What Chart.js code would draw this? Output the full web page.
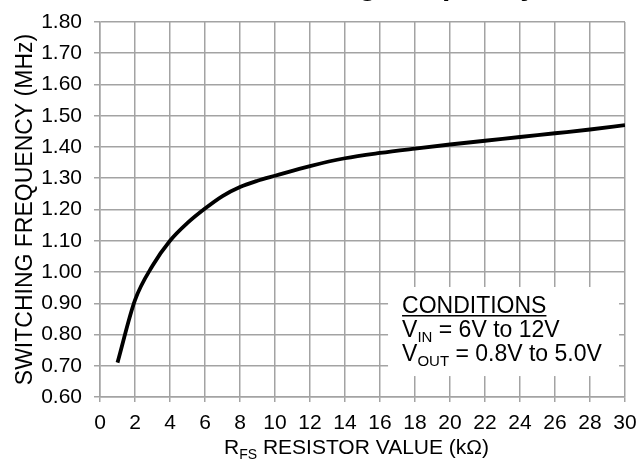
<!DOCTYPE html>
<html>
<head>
<meta charset="utf-8">
<script src="https://cdn.jsdelivr.net/npm/chart.js@4.4.1/dist/chart.umd.min.js"></script>
<style>
  html, body { margin: 0; padding: 0; background: #fff; }
  #wrap { width: 638px; height: 463px; }
</style>
</head>
<body>
<div id="wrap"><canvas id="c" width="638" height="463"></canvas></div>
<script>
const resistorKOhm = [1, 2, 3, 4, 5, 6, 7, 8, 9, 10, 12, 14, 16, 18, 20, 22, 24, 26, 28, 30];
const freqMHz = [0.71, 0.91, 1.02, 1.10, 1.157, 1.203, 1.243, 1.272, 1.292, 1.308, 1.339, 1.364, 1.381, 1.395, 1.408, 1.42, 1.432, 1.444, 1.456, 1.47];

const FONT = "'Liberation Sans', Arial, Helvetica, sans-serif";
const GRID = '#a3a3a3';

// top title is cut off by the frame, only descenders show
const topTitle = {
  id: 'topTitle',
  afterDraw(chart) {
    const ctx = chart.ctx;
    ctx.save();
    ctx.font = `bold 30px ${FONT}`;
    ctx.fillStyle = '#000';
    ctx.textAlign = 'right';
    ctx.textBaseline = 'alphabetic';
    ctx.fillText('Switching Frequency', 537, -5);
    ctx.restore();
  },
};

// x title with subscript
const xTitle = {
  id: 'xTitle',
  afterDraw(chart) {
    const ctx = chart.ctx;
    const area = chart.chartArea;
    const parts = [
      { t: 'R', f: `21px ${FONT}`, dy: 0 },
      { t: 'FS', f: `14px ${FONT}`, dy: 5 },
      { t: ' RESISTOR VALUE (kΩ)', f: `21px ${FONT}`, dy: 0 },
    ];
    ctx.save();
    let w = 0;
    parts.forEach((p) => { ctx.font = p.f; w += ctx.measureText(p.t).width; });
    let x = (area.left + area.right) / 2 - 6 - w / 2;
    const y = 454;
    ctx.fillStyle = '#000';
    ctx.textBaseline = 'alphabetic';
    parts.forEach((p) => {
      ctx.font = p.f;
      ctx.fillText(p.t, x, y + p.dy);
      x += ctx.measureText(p.t).width;
    });
    ctx.restore();
  },
};

// conditions box
const conditions = {
  id: 'conditions',
  afterDatasetsDraw(chart) {
    const ctx = chart.ctx;
    const xs = chart.scales.x;
    const ys = chart.scales.y;
    const x0 = xs.getPixelForValue(16.46);
    const x1 = xs.getPixelForValue(29.66);
    const y0 = ys.getPixelForValue(0.952);
    const y1 = ys.getPixelForValue(0.667);
    ctx.save();
    ctx.fillStyle = '#fff';
    ctx.fillRect(x0, y0, x1 - x0, y1 - y0);
    ctx.fillStyle = '#000';
    ctx.textBaseline = 'alphabetic';
    const tx = x0 + 14;
    ctx.font = `23px ${FONT}`;
    ctx.fillText('CONDITIONS', tx, y0 + 26);
    const uw = ctx.measureText('CONDITIONS').width;
    ctx.fillRect(tx, y0 + 28, uw, 1.5);
    const line = (sub, rest, by) => {
      let x = tx;
      ctx.font = `23px ${FONT}`;
      ctx.fillText('V', x, by);
      x += ctx.measureText('V').width;
      ctx.font = `15px ${FONT}`;
      ctx.fillText(sub, x, by + 5);
      x += ctx.measureText(sub).width;
      ctx.font = `23px ${FONT}`;
      ctx.fillText(rest, x, by);
    };
    line('IN', ' = 6V to 12V', y0 + 50);
    line('OUT', ' = 0.8V to 5.0V', y0 + 74);
    ctx.restore();
  },
};

new Chart(document.getElementById('c'), {
  type: 'line',
  data: {
    datasets: [
      {
        label: 'fSW',
        data: resistorKOhm.map((r, i) => ({ x: r, y: freqMHz[i] })),
        borderColor: '#000',
        borderWidth: 3.8,
        pointRadius: 0,
        cubicInterpolationMode: 'monotone',
        fill: false,
      },
    ],
  },
  options: {
    responsive: false,
    animation: false,
    layout: { padding: { top: 22, right: 13, left: 0, bottom: 0 } },
    plugins: {
      legend: { display: false },
      tooltip: { enabled: false },
      title: { display: false },
    },
    scales: {
      x: {
        type: 'linear',
        min: 0,
        max: 30,
        afterFit: (s) => {
          s.height = 66;
          s.paddingLeft = 0;
          s.paddingRight = 0;
        },
        ticks: {
          stepSize: 2,
          color: '#000',
          padding: 9,
          maxRotation: 0,
          font: { family: FONT, size: 21 },
        },
        grid: { color: GRID, lineWidth: 1.5, tickLength: 5, tickColor: GRID },
        border: { color: GRID, width: 1.5 },
      },
      y: {
        min: 0.6,
        max: 1.8,
        afterFit: (s) => {
          s.width = 100;
          s.paddingTop = 0;
          s.paddingBottom = 0;
        },
        ticks: {
          stepSize: 0.1,
          color: '#000',
          padding: 12,
          font: { family: FONT, size: 21 },
          callback: (v) => v.toFixed(2),
        },
        grid: { color: GRID, lineWidth: 1.5, tickLength: 6, tickColor: GRID },
        border: { color: GRID, width: 1.5 },
        title: {
          display: true,
          text: 'SWITCHING FREQUENCY (MHz)',
          color: '#000',
          font: { family: FONT, size: 23 },
          padding: { top: 12, bottom: 0 },
        },
      },
    },
  },
  plugins: [conditions, xTitle, topTitle],
});
</script>
</body>
</html>
